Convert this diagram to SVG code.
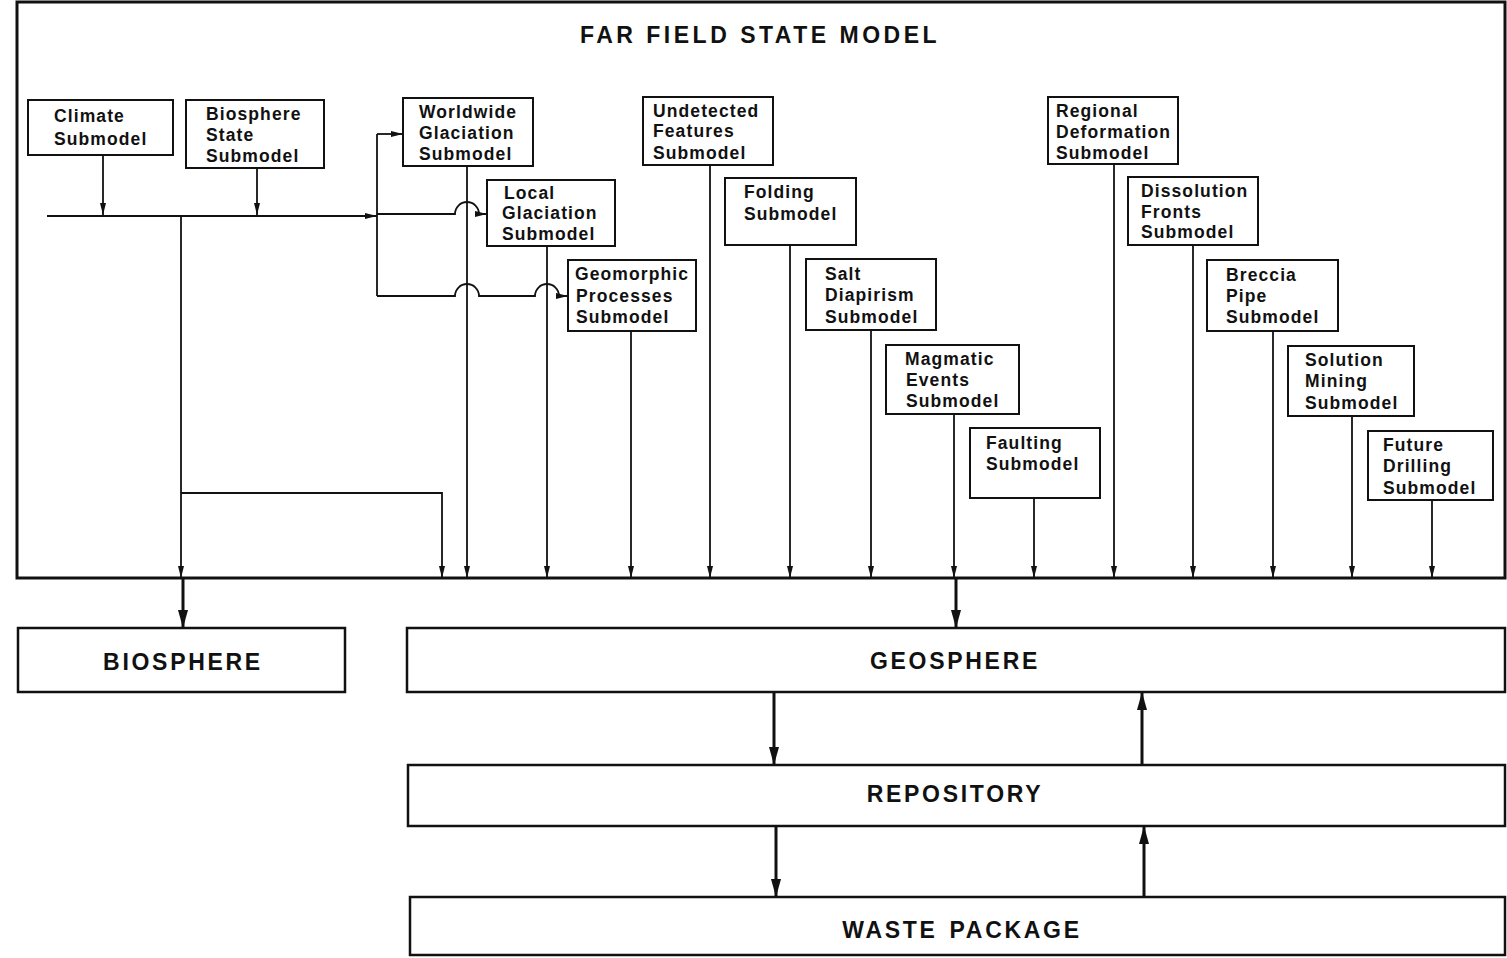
<svg xmlns="http://www.w3.org/2000/svg" width="1507" height="958" viewBox="0 0 1507 958">
<style>
.bg{fill:#fff}
.frame{fill:none;stroke:#111;stroke-width:3}
.box{fill:#fff;stroke:#111;stroke-width:2}
.big{fill:#fff;stroke:#111;stroke-width:2.5}
.t{font-family:"Liberation Sans",Arial,sans-serif;font-weight:bold;font-size:17.5px;letter-spacing:1.1px;fill:#111}
.T{font-family:"Liberation Sans",Arial,sans-serif;font-weight:bold;font-size:23px;letter-spacing:2.7px;fill:#111;text-anchor:middle}
.ln{fill:none;stroke:#111;stroke-width:1.8}
.bl{fill:none;stroke:#111;stroke-width:3}
</style>
<defs>
<marker id="a" viewBox="0 0 12 6" markerWidth="12" markerHeight="6" refX="12" refY="3" orient="auto" markerUnits="userSpaceOnUse"><path d="M0,0 L12,3 L0,6 z" fill="#111"/></marker>
<marker id="A" viewBox="0 0 18 10" markerWidth="18" markerHeight="10" refX="18" refY="5" orient="auto" markerUnits="userSpaceOnUse"><path d="M0,0 L18,5 L0,10 z" fill="#111"/></marker>
</defs>
<rect class="bg" x="0" y="0" width="1507" height="958"/>
<g id="far-field">
<rect class="frame" x="17" y="2" width="1488" height="576"/>
<text class="T" x="760" y="43" style="letter-spacing:3.5px">FAR FIELD STATE MODEL</text>
</g>
<g id="connectors">
<path class="ln" d="M103,155 V215" marker-end="url(#a)"/>
<path class="ln" d="M257,168 V215" marker-end="url(#a)"/>
<path class="ln" d="M47,216 H377" marker-end="url(#a)"/>
<path class="ln" d="M377,134 V296"/>
<path class="ln" d="M377,134 H403" marker-end="url(#a)"/>
<path class="ln" d="M377,214 H455 A12,12 0 0 1 479,214 H487" marker-end="url(#a)"/>
<path class="ln" d="M377,296 H455 A12,12 0 0 1 479,296 H535 A12,12 0 0 1 559,296 H568" marker-end="url(#a)"/>
<path class="ln" d="M181,216 V578" marker-end="url(#a)"/>
<path class="ln" d="M181,493 H442 V578" marker-end="url(#a)"/>
<path class="ln" d="M467,166 V578" marker-end="url(#a)"/>
<path class="ln" d="M547,246 V578" marker-end="url(#a)"/>
<path class="ln" d="M631,331 V578" marker-end="url(#a)"/>
<path class="ln" d="M710,165 V578" marker-end="url(#a)"/>
<path class="ln" d="M790,245 V578" marker-end="url(#a)"/>
<path class="ln" d="M871,330 V578" marker-end="url(#a)"/>
<path class="ln" d="M954,414 V578" marker-end="url(#a)"/>
<path class="ln" d="M1034,498 V578" marker-end="url(#a)"/>
<path class="ln" d="M1114,164 V578" marker-end="url(#a)"/>
<path class="ln" d="M1193,245 V578" marker-end="url(#a)"/>
<path class="ln" d="M1273,331 V578" marker-end="url(#a)"/>
<path class="ln" d="M1352,416 V578" marker-end="url(#a)"/>
<path class="ln" d="M1432,500 V578" marker-end="url(#a)"/>
<path class="bl" d="M183,578 V628" marker-end="url(#A)"/>
<path class="bl" d="M956,578 V628" marker-end="url(#A)"/>
<path class="bl" d="M774,692 V765" marker-end="url(#A)"/>
<path class="bl" d="M1142,765 V692" marker-end="url(#A)"/>
<path class="bl" d="M776,826 V897" marker-end="url(#A)"/>
<path class="bl" d="M1144,897 V826" marker-end="url(#A)"/>
</g>
<g id="climate"><rect class="box" x="28" y="100" width="145" height="55"/><text class="t" x="54" y="122">Climate</text><text class="t" x="54" y="145">Submodel</text></g>
<g id="biosphere-state"><rect class="box" x="186" y="100" width="138" height="68"/><text class="t" x="206" y="120">Biosphere</text><text class="t" x="206" y="141">State</text><text class="t" x="206" y="162">Submodel</text></g>
<g id="worldwide-glaciation"><rect class="box" x="403" y="98" width="130" height="68"/><text class="t" x="419" y="118">Worldwide</text><text class="t" x="419" y="139">Glaciation</text><text class="t" x="419" y="160">Submodel</text></g>
<g id="local-glaciation"><rect class="box" x="487" y="180" width="128" height="66"/><text class="t" x="504" y="199">Local</text><text class="t" x="502" y="219">Glaciation</text><text class="t" x="502" y="240">Submodel</text></g>
<g id="geomorphic"><rect class="box" x="568" y="260" width="128" height="71"/><text class="t" x="575" y="280">Geomorphic</text><text class="t" x="576" y="302">Processes</text><text class="t" x="576" y="323">Submodel</text></g>
<g id="undetected"><rect class="box" x="643" y="97" width="130" height="68"/><text class="t" x="653" y="117">Undetected</text><text class="t" x="653" y="137">Features</text><text class="t" x="653" y="159">Submodel</text></g>
<g id="folding"><rect class="box" x="725" y="178" width="131" height="67"/><text class="t" x="744" y="198">Folding</text><text class="t" x="744" y="220">Submodel</text></g>
<g id="salt"><rect class="box" x="806" y="259" width="130" height="71"/><text class="t" x="825" y="280">Salt</text><text class="t" x="825" y="301">Diapirism</text><text class="t" x="825" y="323">Submodel</text></g>
<g id="magmatic"><rect class="box" x="886" y="345" width="133" height="69"/><text class="t" x="905" y="365">Magmatic</text><text class="t" x="906" y="386">Events</text><text class="t" x="906" y="407">Submodel</text></g>
<g id="faulting"><rect class="box" x="970" y="428" width="130" height="70"/><text class="t" x="986" y="449">Faulting</text><text class="t" x="986" y="470">Submodel</text></g>
<g id="regional"><rect class="box" x="1048" y="97" width="130" height="67"/><text class="t" x="1056" y="117">Regional</text><text class="t" x="1056" y="138">Deformation</text><text class="t" x="1056" y="159">Submodel</text></g>
<g id="dissolution"><rect class="box" x="1128" y="177" width="130" height="68"/><text class="t" x="1141" y="197">Dissolution</text><text class="t" x="1141" y="218">Fronts</text><text class="t" x="1141" y="238">Submodel</text></g>
<g id="breccia"><rect class="box" x="1207" y="260" width="131" height="71"/><text class="t" x="1226" y="281">Breccia</text><text class="t" x="1226" y="302">Pipe</text><text class="t" x="1226" y="323">Submodel</text></g>
<g id="solution"><rect class="box" x="1288" y="346" width="126" height="70"/><text class="t" x="1305" y="366">Solution</text><text class="t" x="1305" y="387">Mining</text><text class="t" x="1305" y="409">Submodel</text></g>
<g id="drilling"><rect class="box" x="1368" y="431" width="125" height="69"/><text class="t" x="1383" y="451">Future</text><text class="t" x="1383" y="472">Drilling</text><text class="t" x="1383" y="494">Submodel</text></g>
<g id="biosphere"><rect class="big" x="18" y="628" width="327" height="64"/><text class="T" x="183" y="670">BIOSPHERE</text></g>
<g id="geosphere"><rect class="big" x="407" y="628" width="1098" height="64"/><text class="T" x="955" y="669">GEOSPHERE</text></g>
<g id="repository"><rect class="big" x="408" y="765" width="1097" height="61"/><text class="T" x="955" y="802">REPOSITORY</text></g>
<g id="waste-package"><rect class="big" x="410" y="897" width="1095" height="58"/><text class="T" x="962" y="938">WASTE<tspan dx="12">PACKAGE</tspan></text></g>
</svg>
